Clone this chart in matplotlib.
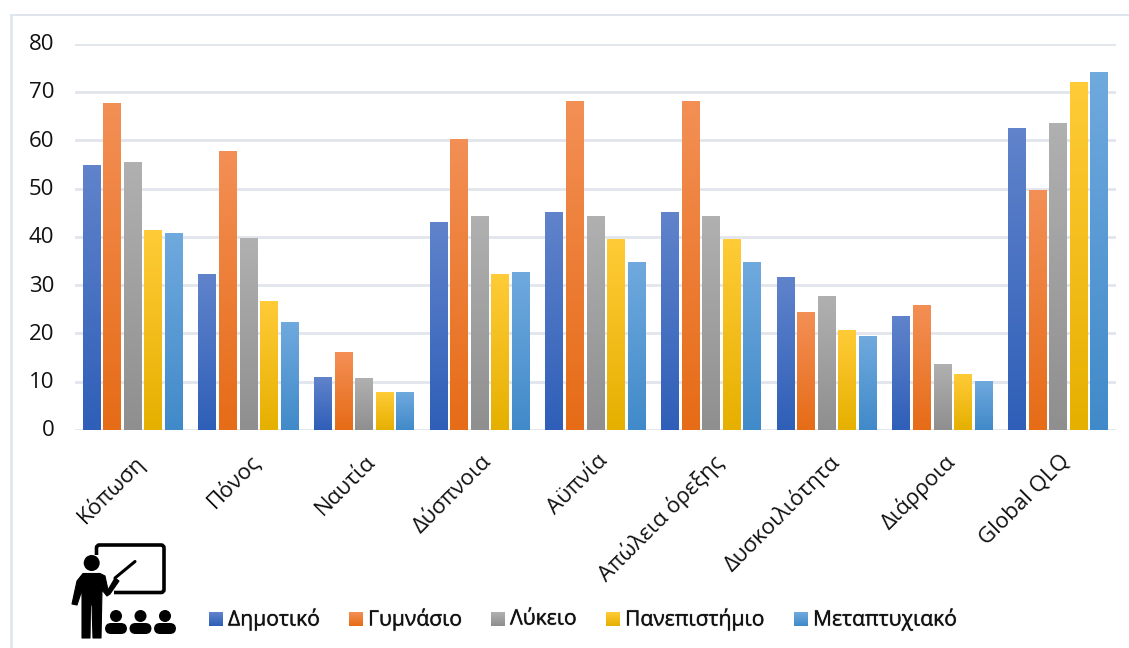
import numpy as np
import matplotlib
matplotlib.use("Agg")
import matplotlib.pyplot as plt
import matplotlib.patheffects as pe
from matplotlib.colors import LinearSegmentedColormap
from matplotlib.patches import Circle, FancyBboxPatch, Polygon
from matplotlib.transforms import ScaledTranslation

plt.rcParams['font.family'] = ['Open Sans', 'DejaVu Sans']

categories = ['Κόπωση', 'Πόνος', 'Ναυτία', 'Δύσπνοια', 'Αϋπνία', 'Απώλεια όρεξης',
              'Δυσκοιλιότητα', 'Διάρροια', 'Global QLQ']
dimotiko = [54.8, 32.3, 10.8, 43.0, 45.1, 45.1, 31.5, 23.6, 62.5]
gymnasio = [67.6, 57.7, 16.0, 60.2, 68.0, 68.0, 24.4, 25.7, 49.5]
lykeio = [55.5, 39.6, 10.6, 44.2, 44.3, 44.3, 27.6, 13.6, 63.5]
panepistimio = [41.4, 26.7, 7.7, 32.1, 39.4, 39.4, 20.7, 11.5, 72.0]
metaptyxiako = [40.6, 22.2, 7.8, 32.7, 34.6, 34.6, 19.3, 10.0, 74.0]
series_names = ['Δημοτικό', 'Γυμνάσιο', 'Λύκειο', 'Πανεπιστήμιο', 'Μεταπτυχιακό']
series_values = [dimotiko, gymnasio, lykeio, panepistimio, metaptyxiako]
# (top, bottom) colours of the vertical fill in each series
series_colors = [('#6083cb', '#2f5fb8'), ('#f38f55', '#e66c17'), ('#b0b0b0', '#8f8f8f'),
                 ('#ffcb37', '#e6b000'), ('#6fa9de', '#418ac9')]

W, H = 1129, 648
fig = plt.figure(figsize=(W / 100, H / 100), dpi=100, facecolor='white')

def axes_px(x0, y0, x1, y1):
    """Axes placed by pixel box, y measured from the top of the figure."""
    return fig.add_axes([x0 / W, 1 - y1 / H, (x1 - x0) / W, (y1 - y0) / H])

ax = axes_px(75, 43.7, 1116, 430)
ax.set_facecolor('none')

ax.set_yticks(range(0, 81, 10))
ax.tick_params(axis='y', length=0, labelsize=16, pad=15, labelcolor='#111111')
ax.grid(axis='y', color='#e1e6ed', lw=2.0, zorder=0)
ax.set_axisbelow(True)
for s in ax.spines.values():
    s.set_visible(False)

ax.set_xticks(np.arange(len(categories)) + 0.5)
ax.set_xticklabels(categories, rotation=45, ha='right', rotation_mode='anchor',
                   fontsize=16, color='#111111')
ax.tick_params(axis='x', length=0, pad=15)

# nudge tick labels by a pixel or two
for lab in ax.get_yticklabels():
    lab.set_transform(lab.get_transform() + ScaledTranslation(0, 1.5 / 100, fig.dpi_scale_trans))
for lab in ax.get_xticklabels():
    lab.set_transform(lab.get_transform() + ScaledTranslation(1.0 / 100, 0, fig.dpi_scale_trans))

bar_w = 0.155
pitch = 0.178
offset0 = 0.5 - 2 * pitch
for j, (vals, (top, bottom)) in enumerate(zip(series_values, series_colors)):
    cmap = LinearSegmentedColormap.from_list(series_names[j], [bottom, top])
    grad = np.linspace(1, 0, 64).reshape(-1, 1)
    xs = np.arange(len(categories)) + offset0 + j * pitch
    rects = ax.bar(xs, vals, width=bar_w, color='none', zorder=2)
    for r in rects:
        x, w, h = r.get_x(), r.get_width(), r.get_height()
        ax.imshow(grad, cmap=cmap, vmin=0, vmax=1, aspect='auto', zorder=2,
                  extent=(x, x + w, 0, h), interpolation='bilinear')
ax.set_xlim(0, len(categories))
ax.set_ylim(0, 80)

# overlay in pixel coordinates for the outer frame, legend and presenter icon
ov = fig.add_axes([0, 0, 1, 1], zorder=5)
ov.axis('off')
ov.patch.set_alpha(0)

ov.plot([11, W], [14.5, 14.5], color='#dfe5ee', lw=1.4)
ov.plot([11, 11], [14.5, H], color='#dfe5ee', lw=1.8)

legend_x = [209, 349, 491, 606, 794]
for x, name, (top, bottom) in zip(legend_x, series_names, series_colors):
    ov.imshow(np.linspace(0, 1, 16).reshape(-1, 1),
              cmap=LinearSegmentedColormap.from_list('k', [top, bottom]),
              extent=(x, x + 14, 626, 612), aspect='auto', zorder=3)
    t = ov.text(x + 19, 619, name, fontsize=15.2, va='center', ha='left', color='#111111')
    t.set_path_effects([pe.withStroke(linewidth=1.0, foreground='#bbbbbb', alpha=0.6), pe.Normal()])

# presenter at the board with three seated listeners
k = 'black'
ov.add_patch(FancyBboxPatch((96.5, 545), 67.5, 47.5, boxstyle='round,pad=0,rounding_size=3',
                            fc='none', ec=k, lw=2.6))
# open part of the board outline, behind the presenter
ov.add_patch(Polygon([(90, 555), (114, 555), (114, 600), (90, 600)], fc='white', ec='none', zorder=2))
ov.add_patch(Circle((91.7, 563), 8, fc=k, ec='none', zorder=4))
ov.add_patch(Polygon([(83, 573.5), (100, 573.5), (105, 576), (108, 590), (115, 578),
                      (119, 581), (110, 594), (107, 596), (102, 590), (101, 638),
                      (93, 638), (92, 605), (90.5, 605), (90, 638), (82, 638),
                      (82, 590), (77, 605), (72, 604), (77, 581)],
                     closed=True, fc=k, ec=k, lw=0.8, joinstyle='round', zorder=4))
ov.plot([115, 135], [578, 561.5], color=k, lw=2.2, solid_capstyle='round', zorder=4)
for cx in [116, 140.5, 165]:
    ov.add_patch(Circle((cx, 616), 6, fc=k, ec='none', zorder=4))
    ov.add_patch(FancyBboxPatch((cx - 11, 623), 22, 11, boxstyle='round,pad=0,rounding_size=6',
                                fc=k, ec='none', zorder=4))
ov.set_xlim(0, W)
ov.set_ylim(H, 0)

fig.savefig('out.png', dpi=100, facecolor='white')
